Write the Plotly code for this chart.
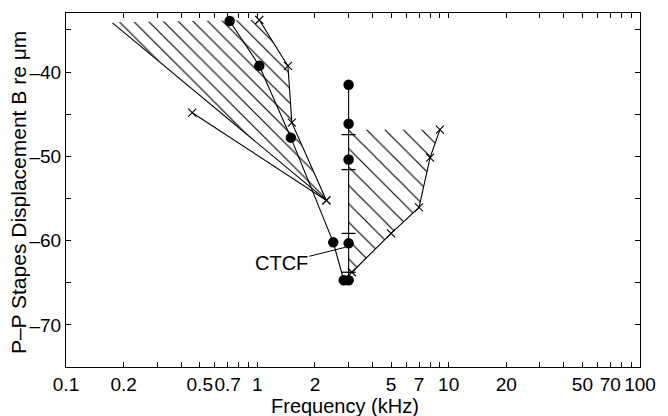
import math
import plotly.graph_objects as go

# ---- data (frequency in kHz, displacement in dB re um) ----
left_region_f = [0.175, 1.024, 1.445, 1.515, 2.296]
left_region_db = [-34.1, -33.83, -39.27, -46.01, -55.24]

line_a_f = [0.175, 2.296]
line_a_db = [-34.18, -55.24]

line_b_f = [0.457, 2.296]
line_b_db = [-44.83, -55.24]

line_c_f = [1.024, 1.445, 1.515, 2.296]
line_c_db = [-33.83, -39.27, -46.01, -55.24]

circ_f = [0.717, 1.024, 1.497, 2.494, 2.83]
circ_db = [-33.95, -39.27, -47.79, -60.21, -64.71]

ctcf_f = [3.0, 3.0, 3.0, 3.0, 3.0]
ctcf_db = [-41.52, -46.13, -50.39, -60.33, -64.71]

bar_f = [3.0, 3.0, 3.0, 3.0]
bar_db = [-47.43, -51.58, -59.15, -63.76]

right_curve_f = [3.12, 5.0, 7.0, 8.0, 9.0]
right_curve_db = [-63.76, -59.15, -56.07, -50.16, -46.84]

right_region_f = [3.0, 9.0, 8.0, 7.0, 5.0, 3.12, 3.0]
right_region_db = [-46.84, -46.84, -50.16, -56.07, -59.15, -63.76, -63.9]

x_tickvals = [0.1, 0.2, 0.3, 0.4, 0.5, 0.6, 0.7, 0.8, 0.9,
              1, 2, 3, 4, 5, 6, 7, 8, 9,
              10, 20, 30, 40, 50, 60, 70, 80, 90, 100]
x_ticktext = ["0.1", "0.2", "", "", "0.5", "", "0.7", "", "",
              "1", "2", "", "", "5", "", "7", "", "",
              "10", "20", "", "", "50", "", "70", "", "", "100"]
y_tickvals = [-70, -65, -60, -55, -50, -45, -40, -35]
y_ticktext = ["\u201370", "", "\u201360", "", "\u201350", "", "\u201340", ""]

BLK = "black"
LW = 1.1

fig = go.Figure()

# hatched regions
fig.add_trace(go.Scatter(
    x=left_region_f, y=left_region_db, mode="lines", fill="toself",
    line=dict(width=0, color="rgba(0,0,0,0)"),
    fillcolor="rgba(0,0,0,0)",
    fillpattern=dict(shape="\\", fgcolor=BLK, bgcolor="rgba(0,0,0,0)",
                     size=10.5, solidity=0.11, fillmode="replace"),
    hoverinfo="skip", showlegend=False))
fig.add_trace(go.Scatter(
    x=right_region_f, y=right_region_db, mode="lines", fill="toself",
    line=dict(width=0, color="rgba(0,0,0,0)"),
    fillcolor="rgba(0,0,0,0)",
    fillpattern=dict(shape="\\", fgcolor=BLK, bgcolor="rgba(0,0,0,0)",
                     size=13, solidity=0.09, fillmode="replace"),
    hoverinfo="skip", showlegend=False))

# boundary lines
fig.add_trace(go.Scatter(x=line_a_f, y=line_a_db, mode="lines",
                         line=dict(color=BLK, width=LW), showlegend=False))
xm = dict(symbol="x-thin", size=8, color=BLK, line=dict(color=BLK, width=1.1))
fig.add_trace(go.Scatter(x=line_b_f, y=line_b_db, mode="lines+markers",
                         line=dict(color=BLK, width=LW), marker=xm, showlegend=False))
fig.add_trace(go.Scatter(x=line_c_f, y=line_c_db, mode="lines+markers",
                         line=dict(color=BLK, width=LW), marker=xm, showlegend=False))
fig.add_trace(go.Scatter(x=right_curve_f, y=right_curve_db, mode="lines+markers",
                         line=dict(color=BLK, width=LW), marker=xm, showlegend=False))

# circles
cm = dict(symbol="circle", size=10.5, color=BLK)
fig.add_trace(go.Scatter(x=circ_f, y=circ_db, mode="lines+markers",
                         line=dict(color=BLK, width=LW), marker=cm, showlegend=False))
fig.add_trace(go.Scatter(x=ctcf_f, y=ctcf_db, mode="lines+markers",
                         line=dict(color=BLK, width=LW), marker=cm, showlegend=False))
fig.add_trace(go.Scatter(x=bar_f, y=bar_db, mode="markers",
                         marker=dict(symbol="line-ew", size=10,
                                     line=dict(color=BLK, width=1.3)),
                         showlegend=False))

tickfont = dict(family="Liberation Sans Narrow, Arial Narrow, Liberation Sans",
                size=19, color=BLK)

fig.update_xaxes(type="log", range=[-1, 2], tickvals=x_tickvals, ticktext=x_ticktext,
                 ticks="inside", ticklen=5, tickwidth=1, tickcolor=BLK,
                 showline=True, linecolor=BLK, linewidth=1, mirror="ticks",
                 showgrid=False, zeroline=False, tickfont=tickfont, tickangle=0)
fig.update_yaxes(range=[-75, -33], tickvals=y_tickvals, ticktext=y_ticktext,
                 ticks="inside", ticklen=5, tickwidth=1, tickcolor=BLK,
                 showline=True, linecolor=BLK, linewidth=1, mirror="ticks",
                 showgrid=False, zeroline=False, tickfont=tickfont)

titlefont = dict(family="Liberation Sans, Arial", size=20, color=BLK)
ytitlefont = dict(family="Liberation Sans, Arial", size=21, color=BLK)
fig.update_layout(
    width=668, height=416,
    margin=dict(l=66, r=20, t=12, b=49),
    paper_bgcolor="white", plot_bgcolor="white",
    showlegend=False,
    annotations=[
        dict(text="Frequency (kHz)", xref="paper", yref="paper", x=0.486, y=-0.11,
             xanchor="center", yanchor="middle", showarrow=False, font=titlefont),
        dict(text="P\u2013P Stapes Displacement B re \u03bcm", xref="paper", yref="paper",
             x=-0.0825, y=0.493, textangle=-90, xanchor="center", yanchor="middle",
             showarrow=False, font=ytitlefont),
        dict(text="CTCF", x=math.log10(2.88), y=-60.8, xref="x", yref="y",
             ax=-64, ay=16, axref="pixel", ayref="pixel", showarrow=True,
             arrowhead=0, arrowwidth=1, arrowcolor=BLK, font=titlefont),
    ],
)

fig.write_html("out.html")
